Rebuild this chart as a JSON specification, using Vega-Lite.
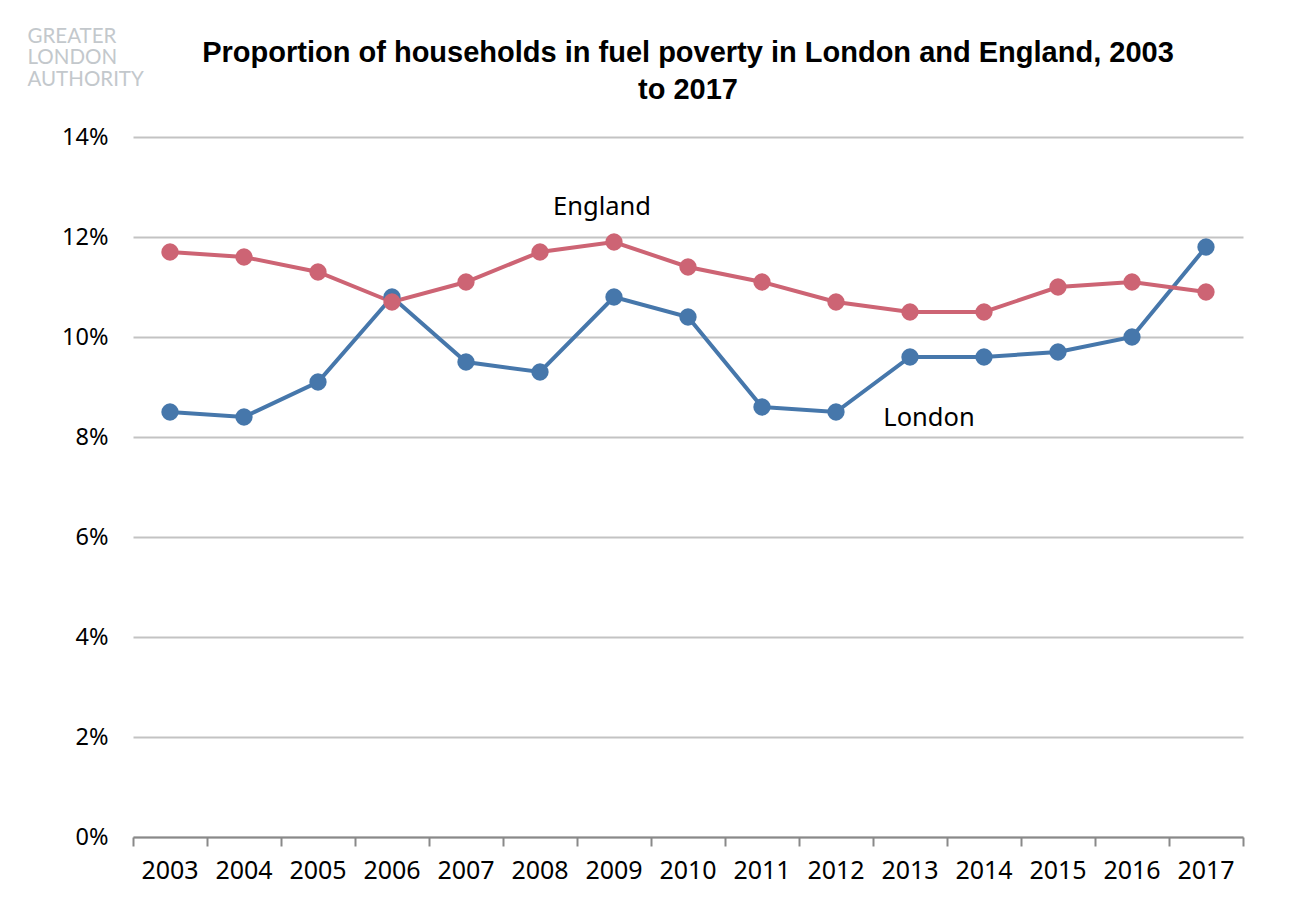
{
  "$schema": "https://vega.github.io/schema/vega-lite/v6.json",
  "width": 1110,
  "height": 700,
  "autosize": {"type": "none"},
  "padding": {"left": 133, "top": 137, "right": 50, "bottom": 83},
  "background": "white",
  "title": {
    "text": ["Proportion of households in fuel poverty in London and England, 2003", "to 2017"],
    "anchor": "middle",
    "font": "Liberation Sans",
    "fontSize": 29,
    "fontWeight": "bold",
    "color": "black",
    "lineHeight": 37,
    "offset": -79
  },
  "datasets": {
    "series": [
      {"year": "2003", "series": "London", "value": 0.085},
      {"year": "2004", "series": "London", "value": 0.084},
      {"year": "2005", "series": "London", "value": 0.091},
      {"year": "2006", "series": "London", "value": 0.108},
      {"year": "2007", "series": "London", "value": 0.095},
      {"year": "2008", "series": "London", "value": 0.093},
      {"year": "2009", "series": "London", "value": 0.108},
      {"year": "2010", "series": "London", "value": 0.104},
      {"year": "2011", "series": "London", "value": 0.086},
      {"year": "2012", "series": "London", "value": 0.085},
      {"year": "2013", "series": "London", "value": 0.096},
      {"year": "2014", "series": "London", "value": 0.096},
      {"year": "2015", "series": "London", "value": 0.097},
      {"year": "2016", "series": "London", "value": 0.100},
      {"year": "2017", "series": "London", "value": 0.118},
      {"year": "2003", "series": "England", "value": 0.117},
      {"year": "2004", "series": "England", "value": 0.116},
      {"year": "2005", "series": "England", "value": 0.113},
      {"year": "2006", "series": "England", "value": 0.107},
      {"year": "2007", "series": "England", "value": 0.111},
      {"year": "2008", "series": "England", "value": 0.117},
      {"year": "2009", "series": "England", "value": 0.119},
      {"year": "2010", "series": "England", "value": 0.114},
      {"year": "2011", "series": "England", "value": 0.111},
      {"year": "2012", "series": "England", "value": 0.107},
      {"year": "2013", "series": "England", "value": 0.105},
      {"year": "2014", "series": "England", "value": 0.105},
      {"year": "2015", "series": "England", "value": 0.110},
      {"year": "2016", "series": "England", "value": 0.111},
      {"year": "2017", "series": "England", "value": 0.109}
    ],
    "labels": [
      {"year": "2009", "value": 0.126, "label": "England"}
    ],
    "labels2": [
      {"year": "2013", "value": 0.0838, "label": "London"}
    ]
  },
  "encoding": {
    "x": {
      "field": "year",
      "type": "ordinal",
      "scale": {"type": "band", "paddingInner": 0, "paddingOuter": 0},
      "axis": {
        "title": null,
        "bandPosition": 1,
        "tickExtra": true,
        "labelOffset": 0,
        "labelAngle": 0,
        "domainColor": "#898989",
        "domainWidth": 2,
        "tickColor": "#898989",
        "tickWidth": 2,
        "tickSize": 9,
        "labelPadding": 12,
        "labelFont": "Noto Sans",
        "labelFontSize": 25,
        "labelColor": "black",
        "grid": false
      }
    },
    "y": {
      "field": "value",
      "type": "quantitative",
      "scale": {"domain": [0, 0.14], "nice": false, "zero": true},
      "axis": {
        "values": [0, 0.02, 0.04, 0.06, 0.08, 0.1, 0.12, 0.14],
        "format": ".0%",
        "domain": false,
        "ticks": false,
        "grid": true,
        "gridColor": "#c3c3c3",
        "gridWidth": 2,
        "labelPadding": 25,
        "labelFont": "Noto Sans",
        "labelFontSize": 23.5,
        "labelColor": "black",
        "title": ["GREATER", "LONDON", "AUTHORITY"],
        "titleAngle": 0,
        "titleAlign": "left",
        "titleBaseline": "top",
        "titleX": -106,
        "titleY": -111,
        "titleFont": "Lato",
        "titleFontSize": 20.5,
        "titleFontWeight": "normal",
        "titleColor": "#c3c8cc",
        "titleLineHeight": 21.5
      }
    }
  },
  "layer": [
    {
      "data": {"name": "series"},
      "mark": {"type": "line", "strokeWidth": 4},
      "encoding": {
        "color": {
          "field": "series",
          "type": "nominal",
          "scale": {"domain": ["London", "England"], "range": ["#4677ab", "#cd6474"]},
          "legend": null
        }
      }
    },
    {
      "data": {"name": "series"},
      "mark": {"type": "point", "filled": true, "opacity": 1, "size": 300},
      "encoding": {
        "color": {
          "field": "series",
          "type": "nominal",
          "scale": {"domain": ["London", "England"], "range": ["#4677ab", "#cd6474"]},
          "legend": null
        }
      }
    },
    {
      "data": {"name": "labels"},
      "mark": {"type": "text", "font": "Noto Sans", "fontSize": 25.5, "color": "black", "dx": -12, "baseline": "middle"},
      "encoding": {"text": {"field": "label"}}
    },
    {
      "data": {"name": "labels2"},
      "mark": {"type": "text", "font": "Noto Sans", "fontSize": 25.5, "color": "black", "dx": 19, "baseline": "middle"},
      "encoding": {"text": {"field": "label"}}
    }
  ],
  "config": {"view": {"stroke": null}}
}
